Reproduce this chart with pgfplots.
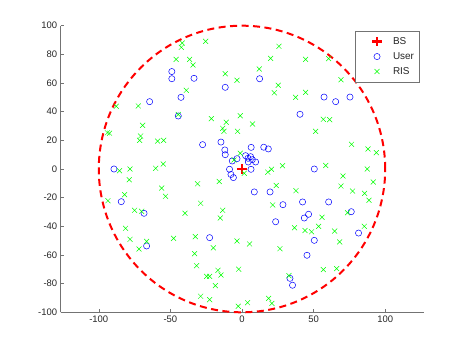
\documentclass[border=0pt]{standalone}
\usepackage{pgfplots}
\pgfplotsset{compat=1.18}
\usepackage{fontspec}
\setmainfont{Liberation Sans}

\definecolor{axgray}{gray}{0.45}
\definecolor{txtgray}{gray}{0.15}

\begin{document}
\begin{tikzpicture}
\useasboundingbox (0,0) rectangle (468bp,351bp);
\begin{axis}[
  at={(60.7bp,38.7bp)}, anchor=south west,
  scale only axis,
  width=363.3bp, height=286.6bp,
  xmin=-126.6, xmax=127.1,
  ymin=-100, ymax=100,
  axis x line*=bottom, axis y line*=left,
  axis line style={axgray, line width=0.5bp},
  xtick={-100,-50,0,50,100},
  ytick={-100,-80,...,100},
  tick align=inside,
  major tick length=3.5bp,
  tick style={axgray, line width=0.5bp},
  ticklabel style={font=\fontsize{9.5}{11}\selectfont, text=txtgray},
  /pgf/number format/assume math mode=true,
  clip=false,
  legend style={at={(1,1)}, anchor=north east, xshift=-4.7bp, yshift=-5bp,
    draw=axgray, fill=white, line width=0.5bp,
    font=\fontsize{10}{12}\selectfont, text=txtgray,
    inner xsep=3bp, inner ysep=4.5bp, row sep=2.5bp,
    cells={anchor=west}},
  legend image code/.code={%
    \path[draw=none] (-19bp,0bp) -- (14bp,0bp);
    \draw[#1] plot coordinates {(0bp,0bp)};},
]

\draw[red, line width=2bp, dash pattern=on 7bp off 4.5bp] (axis cs:0,0) circle[radius=100];

% BS
\addplot[only marks, mark=+, mark size=4.6bp, red, line width=2.5bp] coordinates {(0,0)};
\addlegendentry{BS}

% users
\addplot[only marks, mark=o, mark size=3.1bp, blue, line width=0.5bp] coordinates {
(-49,68) (-49,63) (-33.5,63.3) (-11.7,57) (-42.6,50) (-64.5,47) (-44.5,37)
(-27.5,17) (-14.7,18.8) (-12,13.3) (-11.7,10)
(12.3,63) (57.3,50.2) (65.4,47) (75.4,50.2) (40.5,38.2) (6.4,15.1) (15.2,15.2) (18.4,14)
(-89.4,0) (-84.3,-22.8) (-68.4,-30.9) (-66.6,-53.7) (-22.6,-47.9)
(-6.8,5.6) (-3.5,7.2) (-8.7,-0.2) (-7.7,-3.8) (-6,-6)
(2.5,9.3) (4.2,7.5) (6,8.6) (7.2,6.5) (4.4,4.9) (9.5,4.9) (6.3,-0.2)
(50.5,0) (8.6,-16) (19.6,-16) (28.6,-24.9) (42.3,-23) (60.5,-23) (23.5,-36.8)
(46.5,-31.6) (43.5,-34.2) (76.3,-29.8) (50.5,-49.8) (81.4,-44.7) (45.4,-60.2)
(33.5,-76.3) (35.3,-81.1)
};
\addlegendentry{User}

% RIS
\addplot[only marks, mark=x, mark size=3.5bp, green, line width=0.5bp] coordinates {
(-41.7,87.9) (-42.4,84.9) (-25.4,89.1) (-46,76.5) (-36.6,76.5) (-34.2,72.6)
(-11.7,66.5) (-3.5,61.9) (-38.9,54.9) (-87.8,43.8) (-72.4,44) (-69.4,30.5)
(-44.5,38) (-21.4,35.1) (-11,32.6) (-13.5,28.4) (-12.6,26.3) (-3.1,26.3)
(-1.2,37.2) (-94,25.3) (-92.5,25) (-70.8,23) (-71.5,20) (-58.9,19.5)
(-54.7,20) (-1.2,11) (-55,3.5) (-5.6,6.3)
(25.8,85.6) (20,77.2) (44.4,76.5) (60.5,77) (12.1,69.8) (25.3,58.4)
(22.6,53.2) (37.4,50) (44.4,53.5) (69.1,62.3) (7.4,31.4) (56.8,34.7)
(61.2,34.4) (51.4,26.3) (76.5,17.2) (88,14) (93.8,11.4) (28.3,2.3) (58.5,2.5)
(-85.5,-1.2) (-78.2,0) (-60.3,0.5) (-78.7,-7.5) (-82,-17.9) (-93.6,-22.1)
(-56.1,-13.3) (-53.4,-19.1) (-75,-28.8) (-70.1,-29.5) (-81.3,-41.4)
(-78.2,-49.1) (-66.6,-50.5) (-71.9,-55.8) (-47.8,-48.4) (-32.6,-47.2)
(-33.1,-59.1) (-31.7,-67.5) (-24.7,-74.9) (-22.6,-74.9) (-16.8,-70.7)
(-14.7,-74) (-18.6,-81.4) (-28.9,-88.8) (-22.6,-91.2) (-2.6,-95.8)
(-31,-10.3) (-15.9,-8.7) (-28.9,-23.9) (-39.8,-30.9) (-13.5,-28.8)
(-15.2,-34.2) (-20,-55) (-3.5,-50.2) (-2.3,-69.9) (1.6,-3)
(20.6,-0.2) (18,-2.2) (87.5,0) (70.5,-4.9) (91.7,-9.1) (69.1,-11.9)
(77.2,-15.4) (85.6,-17) (88.7,-21.8) (23.9,-11.5) (37.7,-15.1) (21.4,-25.1)
(55.9,-33.7) (73.7,-30.5) (36.7,-41) (44,-42.9) (48.6,-43.8) (53.5,-40)
(64.7,-43.3) (85.4,-40) (68.2,-50.9) (5.3,-52.3) (26.5,-55.6) (56.8,-70.2)
(66.1,-69.5) (32.8,-74.4) (18.6,-90.3) (20.9,-93.8) (3.9,-93.3)
};
\addlegendentry{RIS}

\end{axis}
\end{tikzpicture}
\end{document}
